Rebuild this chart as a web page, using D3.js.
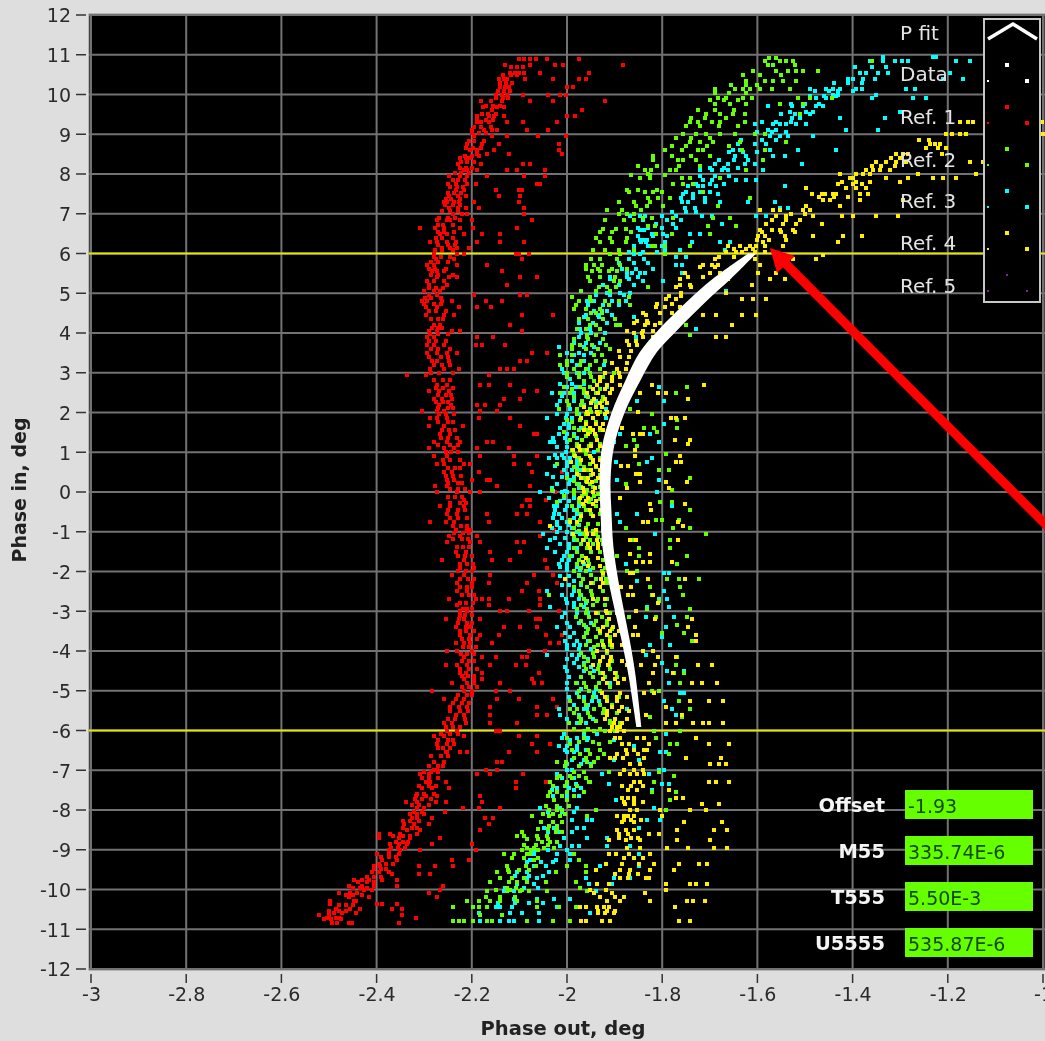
<!DOCTYPE html>
<html><head><meta charset="utf-8">
<script src="https://cdn.jsdelivr.net/npm/d3@7"></script>
<style>html,body{margin:0;padding:0;background:#dedede;overflow:hidden}svg{display:block}text{font-family:"DejaVu Sans",sans-serif;filter:blur(.35px)}</style>
</head><body><svg id="c" width="1045" height="1041"></svg>
<script>
// rows: [phase in, [phase out values...]]
const ref1Rows=[
[10.9,[-2.10,-2.09,-2.077,-2.066,-2.043,-1.975]],[10.75,[-2.13,-2.077,-2.026,-2.009,-1.883]],[10.55,[-2.12,-2.11,-2.10,-2.09,-2.056,-1.954]],
[10.38,[-2.143,-2.133,-2.126,-2.089,-2.03,-1.975,-1.96]],[10.2,[-2.14,-2.13,-2.122,-2.0,-1.988]],[10.0,[-2.15,-2.136,-2.126,-2.093,-2.04,-2.014,-2.003]],
[9.83,[-2.18,-2.16,-2.136,-2.077,-2.03,-1.92]],[9.68,[-2.177,-2.147,-2.133]],[9.6,[-2.157,-1.968]],[9.45,[-2.19,-2.164,-2.154,-2.133,-2.0,-1.984]],
[9.3,[-2.19,-2.18,-2.164,-2.126,-2.093,-2.02]],[9.1,[-2.2,-2.175,-2.157,-2.147,-2.084,-2.04]],[8.95,[-2.196,-2.157,-2.126,-2.06,-2.003]],
[8.75,[-2.21,-2.178,-2.143,-2.017]],[8.6,[-2.203,-2.19,-2.154,-2.017]],[8.5,[-2.19,-2.168,-2.122,-2.01]],[8.4,[-2.224,-2.213,-2.203]],
[8.25,[-2.23,-2.18,-2.093,-2.077]],[8.1,[-2.217,-2.21,-2.19,-2.126,-2.105,-2.047]],[7.95,[-2.248,-2.224,-2.21,-2.168,-2.09,-2.047]],
[7.75,[-2.25,-2.234,-2.21,-2.192,-2.063,-2.056]],[7.6,[-2.234,-2.217,-2.1,-2.094,-2.15]],[7.45,[-2.248,-2.23,-2.213,-2.098,-2.143]],
[7.3,[-2.259,-2.252,-2.238,-2.227,-2.196,-2.10]],[7.15,[-2.248,-2.23,-2.213,-2.185,-2.09]],[7.0,[-2.24,-2.22,-2.21,-2.09]],
[6.85,[-2.273,-2.252,-2.245,-2.224,-2.2,-2.073]],[6.65,[-2.308,-2.277,-2.259,-2.224,-2.197,-2.105]],[6.5,[-2.266,-2.252,-2.217,-2.178,-2.14]],
[6.3,[-2.287,-2.273,-2.252,-2.234,-2.189,-2.14,-2.09]],[6.15,[-2.262,-2.245,-2.231,-2.206]],[6.0,[-2.28,-2.231,-2.217,-2.101,-2.08,-2.108]],
[5.85,[-2.276,-2.238,-2.094]],[5.7,[-2.294,-2.28,-2.231,-2.168]],[5.55,[-2.283,-2.273,-2.259,-2.136]],[5.4,[-2.273,-2.248,-2.231,-2.098,-2.063]],
[5.2,[-2.29,-2.252,-2.126]],[5.05,[-2.3,-2.28,-2.266]],[4.95,[-2.29,-2.273,-2.196,-2.098,-2.084]],[4.8,[-2.304,-2.294,-2.262,-2.241,-2.17,-2.136]],
[4.65,[-2.297,-2.273,-2.227,-2.189,-2.16]],[4.45,[-2.297,-2.259,-2.238,-2.03,-2.094]],[4.2,[-2.28,-2.266,-2.119]],[4.05,[-2.29,-2.273,-2.241,-2.224,-2.094]],
[3.9,[-2.294,-2.28,-2.19,-2.155]],[3.7,[-2.294,-2.28,-2.259,-2.192,-2.178,-2.131]],[3.5,[-2.294,-2.273,-2.252,-2.231,-2.073,-2.043]],
[3.3,[-2.283,-2.273,-2.248,-2.098,-2.084]],[3.1,[-2.287,-2.259,-2.227,-2.126,-2.112,-2.14]],[2.95,[-2.337,-2.297,-2.164]],
[2.7,[-2.273,-2.252,-2.182,-2.164,-2.119]],[2.55,[-2.29,-2.269,-2.248,-2.09,-2.063]],[2.35,[-2.28,-2.263,-2.242,-2.133,-2.098]],
[2.2,[-2.269,-2.244,-2.19,-2.173,-2.14]],[2.05,[-2.304,-2.273,-2.259,-2.182,-2.147]],[1.85,[-2.287,-2.273,-2.252,-2.185,-2.119]],
[1.65,[-2.29,-2.259,-2.219,-2.098]],[1.45,[-2.266,-2.245,-2.07,-2.063]],[1.25,[-2.28,-2.252,-2.224,-2.168,-2.155]],[1.1,[-2.29,-2.259,-2.238,-2.189,-2.122]],
[0.9,[-2.28,-2.252,-2.182,-2.112,-2.063]],[0.7,[-2.273,-2.259,-2.217,-2.203,-2.112,-2.08]],[0.5,[-2.259,-2.241,-2.185,-2.073,-2.01]],
[0.3,[-2.252,-2.238,-2.2,-2.168,-2.161]],[0.15,[-2.278,-2.252,-2.147,-2.077]],[0.0,[-2.273,-2.231,-2.203,-2.182,-2.026]],[-0.2,[-2.217,-2.077,-2.084,-2.045]],
[-0.35,[-2.266,-2.245,-2.217,-2.094,-2.077]],[-0.55,[-2.252,-2.231,-2.105,-2.084,-2.168]],[-0.75,[-2.287,-2.255,-2.238,-2.164,-2.056]],
[-0.95,[-2.234,-2.21,-2.203,-2.028]],[-1.1,[-2.248,-2.224,-2.189,-2.056]],[-1.25,[-2.252,-2.203,-2.182,-2.105,-2.09]],[-1.5,[-2.234,-2.213,-2.161,-2.098]],
[-1.7,[-2.262,-2.217,-2.157,-2.119,-2.047]],[-1.9,[-2.224,-2.196,-2.042]],[-2.1,[-2.241,-2.217,-2.161,-2.07,-2.03]],[-2.3,[-2.231,-2.2,-2.164,-2.084,-2.021]],
[-2.5,[-2.231,-2.21,-2.094,-2.059]],[-2.7,[-2.248,-2.192,-2.178,-2.164,-2.122,-2.056]],[-2.85,[-2.231,-2.164,-2.056]],[-3,[-2.224,-2.21,-2.14,-2.126,-2.08,-2.017]],
[-3.2,[-2.255,-2.227,-2.217,-2.182,-2.066,-2.056]],[-3.4,[-2.234,-2.213,-2.203,-2.133,-2.098,-2.063]],[-3.6,[-2.224,-2.203,-2.182,-2.143,-2.045,-2.01]],
[-3.8,[-2.234,-2.217,-2.203,-2.157,-2.035,-2.017]],[-4,[-2.252,-2.231,-2.2,-2.08,-2.047]],[-4.15,[-2.217,-2.178,-2.15,-2.094,-2.084]],
[-4.35,[-2.255,-2.231,-2.21,-2.161,-2.108,-2.087]],[-4.55,[-2.224,-2.213,-2.178,-2.059]],[-4.7,[-2.217,-2.196,-2.178,-2.073]],
[-4.8,[-2.241,-2.21,-2.196,-2.14,-2.053,-2.07]],[-5,[-2.283,-2.217,-2.2,-2.15,-2.119]],[-5.2,[-2.259,-2.234,-2.217,-2.147,-2.101,-2.03]],
[-5.4,[-2.245,-2.227,-2.21,-2.161,-2.063,-2.021]],[-5.6,[-2.234,-2.217,-2.161,-2.063,-2.042]],[-5.8,[-2.259,-2.241,-2.213,-2.161,-2.105]],
[-6,[-2.252,-2.231,-2.15,-2.14]],[-6.15,[-2.28,-2.259,-2.217,-2.101,-2.063]],[-6.35,[-2.252,-2.238,-2.273,-2.073,-2.035]],[-6.55,[-2.255,-2.252,-2.224,-2.21,-2.122,-2.063]],
[-6.8,[-2.28,-2.259,-2.147,-2.136]],[-7,[-2.28,-2.273,-2.171,-2.147]],[-7.1,[-2.308,-2.29,-2.189,-2.161,-2.093]],[-7.3,[-2.297,-2.287,-2.255,-2.108,-2.045]],
[-7.45,[-2.304,-2.283,-2.248,-2.108]],[-7.65,[-2.318,-2.297,-2.273,-2.182]],[-7.8,[-2.315,-2.276,-2.255,-2.339,-2.178]],[-7.95,[-2.315,-2.301,-2.219,-2.185,-2.14]],
[-8.05,[-2.322,-2.304,-2.257]],[-8.2,[-2.325,-2.315,-2.283,-2.173,-2.155]],[-8.35,[-2.343,-2.322,-2.29,-2.164]],[-8.5,[-2.336,-2.308,-2.182]],
[-8.6,[-2.395,-2.371,-2.35,-2.315]],[-8.7,[-2.395,-2.353,-2.329,-2.266]],[-8.85,[-2.371,-2.353,-2.336,-2.283,-2.2]],[-9,[-2.374,-2.35,-2.308,-2.192]],
[-9.1,[-2.399,-2.374,-2.353]],[-9.25,[-2.388,-2.357,-2.241,-2.206]],[-9.4,[-2.406,-2.392,-2.311,-2.278,-2.24]],[-9.55,[-2.409,-2.395,-2.374]],
[-9.6,[-2.311,-2.287,-2.367]],[-9.75,[-2.43,-2.416,-2.388,-2.357,-2.448]],[-9.9,[-2.459,-2.43,-2.406,-2.357,-2.261]],[-10,[-2.427,-2.409,-2.266]],
[-10.1,[-2.479,-2.455,-2.441,-2.29]],[-10.2,[-2.459,-2.416,-2.273]],[-10.28,[-2.497,-2.448,-2.444]],[-10.37,[-2.497,-2.399,-2.388,-2.357]],
[-10.5,[-2.486,-2.455,-2.434,-2.367,-2.346]],[-10.6,[-2.489,-2.472,-2.444]],[-10.65,[-2.521,-2.5,-2.346]],[-10.72,[-2.504,-2.486,-2.479,-2.318]],
[-10.85,[-2.493,-2.483,-2.458,-2.451,-2.353]]];
const ref1Band=[
[10.7,[-2.118,-2.104,-2.092]],[10.48,[-2.135,-2.118,-2.106]],[10.28,[-2.14,-2.128,-2.115]],[10.08,[-2.145,-2.133,-2.12]],[9.9,[-2.15,-2.135,-2.125]],[9.72,[-2.17,-2.155,-2.14]],[9.52,[-2.178,-2.165,-2.15]],[9.35,[-2.19,-2.17,-2.155]],[9.18,[-2.195,-2.18,-2.16]],[9.02,[-2.2,-2.185,-2.17]],[8.82,[-2.205,-2.195,-2.175]],[8.66,[-2.212,-2.197,-2.18]],[8.45,[-2.215,-2.2,-2.185]],[8.3,[-2.222,-2.21,-2.195]],[8.15,[-2.225,-2.213,-2.2]],[8.02,[-2.235,-2.222,-2.205]],[7.85,[-2.24,-2.228,-2.215]],[7.68,[-2.245,-2.232,-2.218]],[7.52,[-2.25,-2.238,-2.222]],[7.38,[-2.255,-2.243,-2.225]],[7.22,[-2.257,-2.24,-2.225]],[7.06,[-2.262,-2.245,-2.228]],[6.9,[-2.268,-2.25,-2.235]],[6.72,[-2.27,-2.26,-2.24]],[6.55,[-2.272,-2.258,-2.238]],[6.38,[-2.275,-2.262,-2.24]],[6.22,[-2.27,-2.25,-2.235]],[6.08,[-2.278,-2.262,-2.24]],[5.92,[-2.28,-2.265,-2.245]],[5.78,[-2.285,-2.27,-2.25]],[5.62,[-2.29,-2.278,-2.255]],[5.47,[-2.285,-2.272,-2.24]],[5.3,[-2.295,-2.28,-2.258]],[5.12,[-2.29,-2.275,-2.26]],[4.88,[-2.298,-2.285,-2.265]],[4.72,[-2.3,-2.28,-2.265]],[4.55,[-2.29,-2.275,-2.255]],[4.35,[-2.285,-2.27,-2.26]],[4.12,[-2.283,-2.272,-2.262]],[3.98,[-2.288,-2.27,-2.25]],[3.8,[-2.29,-2.275,-2.255]],[3.6,[-2.285,-2.27,-2.245]],[3.4,[-2.29,-2.265,-2.25]],[3.2,[-2.28,-2.262,-2.245]],[3.0,[-2.285,-2.268,-2.24]],[2.82,[-2.28,-2.26,-2.245]],[2.62,[-2.275,-2.26,-2.24]],[2.45,[-2.272,-2.255,-2.243]],[2.27,[-2.275,-2.26,-2.25]],[2.12,[-2.27,-2.25,-2.24]],[1.95,[-2.268,-2.255,-2.238]],[1.75,[-2.27,-2.25,-2.24]],[1.55,[-2.262,-2.248,-2.235]],[1.35,[-2.265,-2.25,-2.232]],[1.18,[-2.27,-2.245,-2.23]],[1.0,[-2.255,-2.243,-2.23]],[0.8,[-2.26,-2.245,-2.225]],[0.6,[-2.25,-2.235,-2.225]],[0.4,[-2.255,-2.24,-2.222]],[0.22,[-2.25,-2.23,-2.22]],[0.07,[-2.245,-2.228,-2.215]],[-0.12,[-2.25,-2.235,-2.22]],[-0.28,[-2.245,-2.225,-2.212]],[-0.45,[-2.25,-2.23,-2.215]],[-0.65,[-2.245,-2.228,-2.21]],[-0.85,[-2.24,-2.222,-2.21]],[-1.02,[-2.238,-2.218,-2.205]],[-1.18,[-2.24,-2.22,-2.208]],[-1.38,[-2.232,-2.218,-2.205]],[-1.6,[-2.23,-2.215,-2.2]],[-1.8,[-2.225,-2.21,-2.198]],[-2.0,[-2.228,-2.212,-2.2]],[-2.2,[-2.225,-2.208,-2.195]],[-2.4,[-2.225,-2.21,-2.2]],[-2.6,[-2.22,-2.205,-2.195]],[-2.78,[-2.225,-2.212,-2.198]],[-2.95,[-2.218,-2.21,-2.2]],[-3.1,[-2.225,-2.215,-2.2]],[-3.3,[-2.228,-2.21,-2.2]],[-3.5,[-2.225,-2.212,-2.195]],[-3.7,[-2.22,-2.205,-2.19]],[-3.9,[-2.218,-2.205,-2.192]],[-4.08,[-2.222,-2.21,-2.195]],[-4.25,[-2.22,-2.205,-2.195]],[-4.45,[-2.225,-2.205,-2.19]],[-4.62,[-2.22,-2.208,-2.195]],[-4.9,[-2.22,-2.205,-2.19]],[-5.1,[-2.23,-2.21,-2.2]],[-5.3,[-2.24,-2.22,-2.205]],[-5.5,[-2.245,-2.225,-2.208]],[-5.7,[-2.25,-2.235,-2.215]],[-5.9,[-2.255,-2.24,-2.225]],[-6.08,[-2.265,-2.245,-2.23]],[-6.25,[-2.27,-2.25,-2.24]],[-6.45,[-2.27,-2.26,-2.245]],[-6.65,[-2.285,-2.265,-2.25]],[-6.9,[-2.29,-2.27,-2.26]],[-7.05,[-2.3,-2.285,-2.27]],[-7.2,[-2.305,-2.29,-2.27]],[-7.4,[-2.31,-2.29,-2.275]],[-7.6,[-2.315,-2.3,-2.28]],[-7.72,[-2.32,-2.305,-2.285]],[-7.88,[-2.325,-2.31,-2.29]],[-8.1,[-2.33,-2.315,-2.3]],[-8.28,[-2.345,-2.33,-2.31]],[-8.45,[-2.345,-2.325,-2.315]],[-8.65,[-2.365,-2.345,-2.33]],[-8.8,[-2.36,-2.345,-2.335]],[-8.95,[-2.37,-2.355,-2.34]],[-9.18,[-2.39,-2.375,-2.36]],[-9.35,[-2.395,-2.38,-2.365]],[-9.48,[-2.405,-2.39,-2.38]],[-9.68,[-2.42,-2.405,-2.39]],[-9.82,[-2.44,-2.42,-2.405]],[-9.95,[-2.45,-2.435,-2.42]],[-10.15,[-2.465,-2.45,-2.43]],[-10.4,[-2.48,-2.465,-2.45]],[-10.55,[-2.5,-2.48,-2.465]],[-10.75,[-2.51,-2.495,-2.475]]];
const ref2Rows=[
[10.85,[-1.584,-1.553,-1.539,-1.525,-1.36]],[10.75,[-1.577,-1.567,-1.521]],[10.6,[-1.609,-1.56,-1.535,-1.518,-1.504,-1.472]],[10.35,[-1.623,-1.584,-1.567,-1.546,-1.518]],
[10.15,[-1.689,-1.647,-1.63,-1.616,-1.595,-1.57,-1.532]],[9.9,[-1.682,-1.665,-1.63,-1.612,-1.514,-1.49,-1.444]],[9.75,[-1.689,-1.658,-1.623,-1.553,-1.504]],
[9.5,[-1.707,-1.679,-1.651,-1.626,-1.511]],[9.3,[-1.742,-1.724,-1.696,-1.679,-1.626]],[9.0,[-1.756,-1.728,-1.707,-1.679,-1.647,-1.605,-1.584]],
[8.8,[-1.742,-1.721,-1.693,-1.637,-1.539]],[8.6,[-1.794,-1.759,-1.724,-1.714,-1.633,-1.584]],[8.35,[-1.819,-1.766,-1.756,-1.728,-1.588]],
[8.1,[-1.836,-1.784,-1.77,-1.823,-1.623]],[8.0,[-1.83]],[7.9,[-1.846,-1.826,-1.759,-1.742,-1.679]],[7.75,[-1.777,-1.756,-1.735]],[7.55,[-1.87,-1.836,-1.819,-1.801,-1.714]],
[7.4,[-1.83,-1.808,-1.784,-1.616]],[7.2,[-1.856,-1.832,-1.798,-1.682]],[7.0,[-1.891,-1.874,-1.86]],[6.9,[-1.84,-1.822,-1.777,-1.693,-1.658]],
[6.7,[-1.83,-1.815,-1.703,-1.644]],[6.62,[-1.925,-1.898,-1.877]],[6.5,[-1.812,-1.78,-1.7]],[6.3,[-1.93,-1.905,-1.877]],[6.2,[-1.822,-1.794,-1.815,-1.742]],
[6.0,[-1.909,-1.888,-1.794]],[5.7,[-1.961,-1.944,-1.926,-1.888]],[5.55,[-1.947,-1.93,-1.912,-1.895]],[5.3,[-1.951,-1.902,-1.888]],[5.15,[-1.933,-1.916,-1.898,-1.83]],
[4.9,[-1.989,-1.951,-1.87]],[4.7,[-1.982,-1.912,-1.867]],[4.5,[-1.95,-1.94,-1.926]],[4.2,[-1.951,-1.94,-1.898,-1.888,-1.749]],[3.95,[-1.958,-1.94,-1.742]],
[3.7,[-1.989,-1.972,-1.947,-1.919]],[3.45,[-2.014,-1.989,-1.944,-1.926]],[3.2,[-2.0,-1.972,-1.951,-2.014]],[3.0,[-2.0,-1.975,-1.951,-1.902]],[2.8,[-1.965,-1.944,-1.86]],
[2.65,[-2.007,-1.972,-1.951,-1.748]],[2.5,[-2.014,-1.993,-1.965,-1.94,-1.772]],[2.3,[-2.0,-1.968,-1.947,-1.926]],[2.1,[-2.017,-1.979,-1.951,-1.867]],
[1.95,[-1.979,-1.961,-1.821]],[1.8,[-2.0,-1.972,-1.769]],[1.6,[-1.986,-1.965,-1.839,-1.818,-1.769]],[1.5,[-2.007,-1.951,-1.81]],[1.3,[-1.993,-1.968,-1.86]],
[1.15,[-1.979,-1.954,-1.877,-1.853]],[0.95,[-1.986,-1.961,-1.793]],[0.7,[-2.021,-1.972,-1.951,-1.849]],[0.55,[-1.979,-1.958,-1.807,-1.786]],[0.35,[-2.0,-1.965,-1.741]],
[0.2,[-1.979,-1.951,-1.877]],[0.05,[-2.031,-1.986,-1.958,-1.779]],[-0.1,[-2.007,-1.968,-1.944]],[-0.25,[-2.021,-1.975,-1.954,-1.804,-1.779]],[-0.45,[-1.979,-1.961,-1.741]],
[-0.7,[-1.993,-1.972,-1.814,-1.8,-1.765]],[-0.9,[-1.986,-1.961,-1.877,-1.777,-1.741]],[-1.05,[-1.965,-1.94,-1.709]],[-1.2,[-1.979,-1.951,-1.926,-1.86,-1.783]],
[-1.4,[-1.986,-1.958,-1.849,-1.783]],[-1.6,[-1.993,-1.968,-1.895,-1.849,-1.748]],[-1.8,[-1.979,-1.954,-1.769]],[-2.0,[-1.986,-1.961,-1.926,-1.874,-1.853]],
[-2.2,[-1.966,-1.94,-1.919,-1.79,-1.765,-1.723]],[-2.4,[-1.986,-1.958,-1.93,-1.825,-1.763]],[-2.6,[-1.972,-1.947,-2.038,-1.821,-1.756]],[-2.75,[-1.958,-1.937,-1.807]],
[-2.95,[-1.979,-1.958,-1.741,-1.832]],[-3.15,[-1.982,-1.954,-1.926,-1.87,-1.814,-1.748]],[-3.35,[-1.965,-1.944,-1.916,-1.769]],[-3.55,[-1.958,-1.93,-1.8,-1.755]],
[-3.75,[-1.951,-1.926,-1.737]],[-3.9,[-1.944,-1.923,-1.905]],[-4.15,[-1.965,-1.944,-1.769]],[-4.35,[-1.965,-1.933,-1.912,-1.772]],[-4.55,[-1.951,-1.93,-1.898,-1.776,-1.755]],
[-4.8,[-1.982,-1.965,-1.933,-1.762]],[-5,[-1.975,-1.954,-1.93,-1.821,-1.807]],[-5.25,[-1.993,-1.965,-1.765,-1.741]],[-5.45,[-1.993,-1.979,-1.944,-1.923,-1.741]],
[-5.65,[-1.975,-1.951,-1.825,-1.758]],[-5.8,[-1.996,-1.972,-1.909,-1.888]],[-6,[-1.965,-1.944,-1.92,-1.899,-1.762,-1.818]],[-6.2,[-2.0,-1.965,-1.814]],
[-6.35,[-1.993,-1.933,-1.783,-1.769]],[-6.6,[-1.972,-1.951,-1.923,-1.786]],[-6.8,[-2.021,-2.003,-1.958,-1.944]],[-7.05,[-1.986,-1.965,-1.912,-1.807]],
[-7.15,[-2.014,-1.993,-1.975,-1.776]],[-7.3,[-2.035,-2.0,-1.954,-1.951,-1.818]],[-7.55,[-2.035,-2.021,-2.0,-1.965,-1.772,-1.821]],[-7.75,[-2.028,-2.0,-1.783]],
[-8,[-2.038,-2.021,-2.01,-1.94,-1.793]],[-8.15,[-2.073,-2.038,-2.014,-1.958]],[-8.4,[-2.038,-2.021]],[-8.55,[-2.024,-2.01,-2.094]],[-8.65,[-2.105,-2.091,-2.063,-2.042]],
[-8.8,[-2.052,-2.035,-2.021]],[-8.95,[-2.084,-2.07,-2.049,-2.028]],[-9.1,[-2.133,-2.112,-2.084,-2.077,-1.986]],[-9.25,[-2.07,-1.975]],[-9.4,[-2.126,-2.087,-2.066,-2.0,-1.961]],
[-9.55,[-2.147,-2.122,-2.024,-1.961]],[-9.8,[-2.161,-2.122,-2.105,-2.084,-2.045,-1.982]],[-9.95,[-2.126,-2.108,-1.972]],[-10.05,[-2.168,-2.126,-2.098,-2.08,-2.042,-1.958]],
[-10.3,[-2.21,-2.185,-2.161,-2.14,-2.105,-2.063]],[-10.45,[-2.239,-2.197,-2.185,-2.168,-2.063,-2.017,-1.982]],[-10.65,[-2.182,-2.136]],
[-10.8,[-2.239,-2.227,-2.217,-2.197,-2.168,-2.157,-2.084,-2.03,-1.993]]];
const ref2Band=[
[10.92,[-1.575,-1.56]],[10.5,[-1.63,-1.595,-1.55]],[10.25,[-1.655,-1.625,-1.6]],[10.05,[-1.69,-1.66,-1.625]],[9.85,[-1.7,-1.67,-1.64]],[9.62,[-1.725,-1.69,-1.65]],[9.42,[-1.74,-1.71,-1.665]],[9.2,[-1.75,-1.72,-1.68,-1.64]],[8.9,[-1.77,-1.74,-1.7]],[8.7,[-1.78,-1.75,-1.705,-1.66]],[8.45,[-1.82,-1.78,-1.74,-1.7]],[8.2,[-1.85,-1.81,-1.765,-1.72]],[7.98,[-1.865,-1.825,-1.795]],[7.6,[-1.875,-1.85,-1.81]],[7.3,[-1.89,-1.86,-1.825]],[7.1,[-1.915,-1.885,-1.845]],[6.85,[-1.92,-1.88,-1.86]],[6.55,[-1.93,-1.905,-1.865]],[6.4,[-1.94,-1.91,-1.875]],[6.1,[-1.945,-1.92,-1.89,-1.86]],[5.85,[-1.95,-1.93,-1.895]],[5.6,[-1.96,-1.935,-1.905,-1.875]],[5.4,[-1.955,-1.93,-1.9]],[5.05,[-1.97,-1.94,-1.91]],[4.8,[-1.975,-1.95,-1.92,-1.89]],[4.6,[-1.985,-1.96,-1.93]],[4.35,[-1.975,-1.955,-1.925,-1.9]],[4.1,[-1.98,-1.96,-1.93]],[3.85,[-1.985,-1.955,-1.925]],[3.6,[-1.99,-1.96,-1.935,-1.91]],[3.3,[-2.0,-1.97,-1.94,-1.92]],[3.1,[-1.985,-1.96,-1.93]],[2.9,[-2.0,-1.975,-1.95,-1.925]],
[2.6,[-1.99,-1.965,-1.93]],[2.4,[-1.985,-1.955,-1.925]],[2.2,[-1.995,-1.97,-1.94]],[2.0,[-1.98,-1.95,-1.93]],[1.75,[-1.99,-1.96,-1.94]],[1.55,[-1.975,-1.955,-1.93]],[1.4,[-1.985,-1.96,-1.94]],[1.22,[-1.98,-1.95,-1.93]],[1.05,[-1.99,-1.965,-1.935]],[0.85,[-1.975,-1.95,-1.93]],[0.62,[-1.985,-1.965,-1.94]],[0.42,[-1.975,-1.95,-1.93]],[0.28,[-1.985,-1.96,-1.94]],[0.12,[-1.97,-1.945,-1.93]],[-0.05,[-1.985,-1.96,-1.935]],[-0.18,[-1.975,-1.95,-1.93]],[-0.35,[-1.99,-1.965,-1.94]],[-0.55,[-1.97,-1.95,-1.93]],[-0.8,[-1.98,-1.955,-1.935]],[-0.98,[-1.975,-1.945,-1.925]],[-1.12,[-1.985,-1.96,-1.935]],[-1.3,[-1.97,-1.945,-1.925]],[-1.5,[-1.98,-1.95,-1.93]],[-1.7,[-1.975,-1.955,-1.925]],[-1.9,[-1.97,-1.945,-1.92]],[-2.1,[-1.975,-1.95,-1.925]],[-2.3,[-1.97,-1.945,-1.915]],[-2.5,[-1.975,-1.95,-1.925]],[-2.7,[-1.965,-1.935,-1.915]],[-2.85,[-1.97,-1.945,-1.92]],[-3.05,[-1.96,-1.935,-1.91]],[-3.25,[-1.97,-1.94,-1.915]],[-3.45,[-1.955,-1.935,-1.905]],[-3.65,[-1.965,-1.94,-1.91]],[-3.85,[-1.96,-1.935,-1.91]],[-4.05,[-1.97,-1.945,-1.915]],[-4.25,[-1.955,-1.93,-1.905]],[-4.45,[-1.96,-1.935,-1.91]],[-4.65,[-1.97,-1.945,-1.92,-1.895]],[-4.9,[-1.96,-1.94,-1.91]],[-5.15,[-1.975,-1.945,-1.915,-1.89]],[-5.35,[-1.96,-1.93,-1.905]],[-5.55,[-1.985,-1.955,-1.925,-1.895]],[-5.75,[-1.97,-1.94,-1.91]],[-5.95,[-1.985,-1.955,-1.93,-1.905]],[-6.3,[-1.975,-1.945,-1.91]],[-6.5,[-1.99,-1.955,-1.93]],[-6.7,[-1.985,-1.96,-1.935]],[-6.9,[-2.005,-1.975,-1.95]],[-7.2,[-2.02,-1.99,-1.96]],[-7.4,[-2.03,-2.005,-1.98]],[-7.65,[-2.04,-2.01,-1.985]],[-7.9,[-2.045,-2.02,-1.995]],[-8.1,[-2.05,-2.03,-2.005]],[-8.3,[-2.055,-2.03,-2.01]],[-8.48,[-2.06,-2.04,-2.02]],[-8.72,[-2.085,-2.06,-2.04]],[-8.88,[-2.09,-2.065,-2.04]],[-9.0,[-2.095,-2.075,-2.06]],[-9.2,[-2.115,-2.09,-2.06]],[-9.5,[-2.125,-2.1,-2.08]],[-9.7,[-2.14,-2.115,-2.09]],[-10.0,[-2.15,-2.12,-2.095]],[-10.2,[-2.17,-2.14,-2.11]]];
const ref3Rows=[
[10.95,[-1.336,-1.231,-1.224]],[10.85,[-1.364,-1.336,-1.311,-1.297,-1.283,-1.182,-1.154]],[10.55,[-1.385,-1.371,-1.346,-1.325,-1.196]],[10.4,[-1.409,-1.399,-1.378,-1.353,-1.21,-1.168]],
[10.15,[-1.49,-1.455,-1.441,-1.427,-1.392,-1.381,-1.287,-1.269]],[10.0,[-1.441,-1.43,-1.35]],[9.9,[-1.476,-1.455,-1.444,-1.36,-1.273,-1.245]],[9.7,[-1.577,-1.528,-1.504,-1.476,-1.462]],
[9.55,[-1.532,-1.497,-1.483,-1.301]],[9.4,[-1.528,-1.511,-1.427,-1.332]],[9.25,[-1.605,-1.567,-1.553,-1.539,-1.518,-1.497]],[9.1,[-1.577,-1.56,-1.413,-1.346]],
[8.95,[-1.574,-1.553,-1.535,-1.483]],[8.75,[-1.605,-1.581,-1.64]],[8.6,[-1.651,-1.637,-1.574,-1.514,-1.434]],[8.45,[-1.647,-1.623,-1.567,-1.542]],
[8.25,[-1.689,-1.661,-1.626,-1.605,-1.507]],[8.1,[-1.721,-1.696,-1.675,-1.661,-1.588]],[7.85,[-1.714,-1.696,-1.644,-1.623,-1.602]],[7.7,[-1.745,-1.724,-1.714,-1.686,-1.542]],
[7.5,[-1.756,-1.735,-1.682]],[7.3,[-1.759,-1.745,-1.71,-1.679,-1.619,-1.563]],[7.15,[-1.752,-1.731,-1.535,-1.553]],[6.95,[-1.867,-1.846,-1.836,-1.801,-1.77,-1.717,-1.696,-1.602,-1.581]],
[6.75,[-1.812,-1.777,-1.675]],[6.6,[-1.846,-1.839]],[6.5,[-1.822,-1.798,-1.742,-1.721]],[6.35,[-1.846,-1.839,-1.832]],[6.3,[-1.844,-1.833,-1.794,-1.738,-1.679,-1.658]],
[6.1,[-1.794,-1.763,-1.668]],[6.0,[-1.86,-1.846]],[5.9,[-1.77,-1.749]],[5.85,[-1.87,-1.839]],[5.7,[-1.77,-1.759]],[5.5,[-1.874,-1.863,-1.846,-1.836,-1.759]],
[5.35,[-1.909,-1.87]],[5.3,[-1.84,-1.798]],[5.05,[-1.665]],[5.0,[-1.916,-1.888,-1.867]],[4.8,[-1.958,-1.944,-1.905,-1.877]],[4.55,[-1.944,-1.926,-1.916]],
[4.4,[-1.965,-1.933,-1.86]],[4.1,[-1.972,-1.951,-1.728]],[3.9,[-1.975,-1.958,-1.856]],[3.65,[-2.017,-1.989,-1.965,-1.944]],[3.45,[-1.986,-1.965,-1.926]],
[3.2,[-2.0,-1.979,-1.923]],[3.0,[-2.007,-1.979,-1.965]],[2.85,[-1.993,-1.93]],[2.65,[-2.0,-1.982,-1.951,-1.916,-1.807]],[2.5,[-2.031,-2.007,-1.986]],
[2.3,[-2.014,-2.0,-1.986,-1.94,-1.853,-1.797]],[2.1,[-2.017,-1.993,-1.919]],[1.85,[-2.042,-2.003,-1.989,-1.919]],[1.7,[-2.007,-1.996,-1.797]],
[1.45,[-2.017,-2.0,-1.986,-1.888,-1.825]],[1.25,[-2.035,-2.028,-2.0,-1.902,-1.807]],[1.0,[-2.003,-1.944]],[0.85,[-2.021,-2.007,-1.993,-1.979,-2.038,-1.821]],
[0.75,[-2.0,-1.979,-1.898,-1.832]],[0.55,[-2.007,-1.99,-1.972]],[0.45,[-2.042,-2.0,-1.979]],[0.3,[-1.993,-1.895,-1.807]],[0.1,[-2.031,-1.975]],
[0,[-2.056,-2.011,-2.0,-1.811]],[-0.15,[-2.007,-1.986,-2.038]],[-0.35,[-2.028,-2.021,-2.0,-1.975,-1.779]],[-0.55,[-2.028,-2.017,-1.979,-1.895,-1.853]],
[-0.75,[-2.021,-2.0,-1.888]],[-0.9,[-2.031,-2.014,-1.989]],[-1.05,[-2.05,-1.989,-1.972,-1.815]],[-1.2,[-2.035,-1.986,-1.965]],[-1.4,[-2.042,-1.996,-1.979]],
[-1.6,[-2.007,-1.989]],[-1.8,[-2.017,-2.0,-1.965,-1.877]],[-1.95,[-2.0,-1.972,-1.951]],[-2.05,[-1.797,-1.786]],[-2.25,[-1.986,-1.853]],[-2.5,[-2.042,-1.986,-1.797]],
[-2.7,[-2.003,-1.975,-1.807,-1.79]],[-2.9,[-2.035,-1.986,-1.965,-1.832,-1.786]],[-3.15,[-2.01,-1.835,-1.776]],[-3.4,[-2.021,-1.993,-1.961,-1.793]],[-3.65,[-1.993,-1.8]],
[-3.85,[-2.0,-1.986,-1.972,-1.825,-1.783]],[-4.1,[-2.042,-1.989,-1.975,-1.835]],[-4.3,[-1.986,-1.965,-1.8]],[-4.5,[-2.0,-1.965,-1.944,-1.79,-1.755]],
[-4.8,[-2.0,-1.979,-1.909,-1.786]],[-5.05,[-1.979,-1.944,-1.762,-1.755]],[-5.25,[-1.947,-1.933,-1.797]],[-5.45,[-2.017,-1.965,-1.958,-1.874,-1.779]],[-5.6,[-2.014,-1.975,-1.772]],
[-5.8,[-1.979,-1.961]],[-6.1,[-2.007,-1.965,-1.937,-1.793]],[-6.25,[-1.993,-1.958,-1.902]],[-6.4,[-2.017,-2.0,-1.979,-1.86]],[-6.55,[-2.0,-1.986,-1.804,-1.793]],
[-6.75,[-1.989,-1.965,-1.902,-1.849]],[-7,[-2.0,-1.989,-1.797,-1.807]],[-7.1,[-2.021,-1.926,-1.828]],[-7.35,[-2.0,-1.982,-1.912,-1.8,-1.786]],[-7.5,[-2.031,-1.986,-1.821,-1.786]],
[-7.75,[-2.028,-2.0,-1.898]],[-7.95,[-2.056,-2.014,-1.979,-1.818]],[-8.25,[-1.989,-1.958,-1.947,-1.832,-1.804]],[-8.45,[-2.049,-2.028,-1.979,-1.965,-1.849]],
[-8.7,[-2.007,-1.958,-1.916]],[-8.9,[-2.014,-1.989,-1.975,-1.916,-1.867]],[-9.1,[-2.07,-2.021,-1.993,-1.849]],[-9.25,[-2.077,-2.024,-1.993]],[-9.4,[-2.07,-2.045,-1.93,-1.849]],
[-9.55,[-2.105,-2.084,-2.038]],[-9.7,[-2.084,-2.063,-1.961,-1.902,-1.867]],[-9.85,[-2.105,-2.07,-1.954,-1.905]],[-10.05,[-2.133,-2.112,-1.94]],
[-10.25,[-2.112,-2.063,-2.028,-1.993]],[-10.45,[-2.15,-2.14,-2.115,-2.021]],[-10.6,[-2.185,-2.119,-2.094,-2.059,-1.951]],[-10.8,[-2.182,-2.14,-2.122,-2.112,-2.059]]];
const ref3Band=[
[10.7,[-1.395,-1.36,-1.33]],[10.3,[-1.44,-1.41,-1.38]],[10.1,[-1.48,-1.45,-1.43,-1.4]],[9.95,[-1.49,-1.46,-1.435]],[9.75,[-1.53,-1.5,-1.47]],[9.5,[-1.55,-1.52,-1.49]],[9.3,[-1.59,-1.56,-1.53]],[9.05,[-1.6,-1.57,-1.54]],[8.85,[-1.635,-1.59,-1.56]],[8.55,[-1.66,-1.63,-1.6]],[8.35,[-1.68,-1.65,-1.62]],[8.15,[-1.7,-1.67,-1.64]],[7.95,[-1.72,-1.69,-1.66]],[7.75,[-1.73,-1.7,-1.67]],[7.55,[-1.75,-1.72,-1.7]],[7.4,[-1.76,-1.735,-1.71]],[7.05,[-1.78,-1.75,-1.73]],[6.85,[-1.84,-1.79,-1.76]],[6.65,[-1.85,-1.83,-1.8,-1.77]],[6.45,[-1.85,-1.82,-1.79]],[6.2,[-1.86,-1.83,-1.8]],[6.05,[-1.87,-1.84,-1.81]],[5.75,[-1.89,-1.86,-1.83]],[5.6,[-1.885,-1.855,-1.82]],[5.42,[-1.91,-1.875,-1.85]],[5.2,[-1.925,-1.89,-1.86]],[4.95,[-1.94,-1.91,-1.88]],[4.7,[-1.955,-1.925,-1.89]],[4.45,[-1.96,-1.935,-1.905]],[4.25,[-1.975,-1.945,-1.915]],[4.0,[-1.97,-1.95,-1.92]],[3.75,[-1.985,-1.96,-1.93]],[3.5,[-2.0,-1.975,-1.95]],[3.3,[-1.99,-1.965,-1.94]],[3.1,[-2.01,-1.985,-1.955]],[2.9,[-2.0,-1.975,-1.95]],[2.72,[-2.015,-1.99,-1.965]],[2.42,[-2.01,-1.985,-1.96]],[2.2,[-2.02,-1.995,-1.965]],[1.95,[-2.02,-2.0,-1.975]],[1.6,[-2.015,-1.995,-1.97]],[1.35,[-2.03,-2.005,-1.98]],[1.12,[-2.02,-2.0,-1.975]],[0.92,[-2.025,-2.01,-1.985]],[0.65,[-2.025,-2.0,-1.98]],[0.38,[-2.03,-2.01,-1.985]],[0.2,[-2.02,-1.995,-1.975]],[0.02,[-2.03,-2.005,-1.985]],[-0.22,[-2.015,-1.995,-1.975]],[-0.45,[-2.025,-2.005,-1.985]],[-0.65,[-2.03,-2.01,-1.985]],[-0.82,[-2.02,-1.995,-1.975]],[-1.0,[-2.02,-2.0,-1.98]],[-1.15,[-2.025,-2.005,-1.985]],[-1.3,[-2.015,-1.995,-1.97]],[-1.5,[-2.025,-2.0,-1.98]],[-1.7,[-2.01,-1.995,-1.975]],[-1.88,[-2.015,-2.0,-1.98]],[-2.12,[-2.015,-1.995,-1.975]],[-2.35,[-2.01,-1.995,-1.97]],[-2.6,[-2.01,-1.99,-1.97]],[-2.8,[-2.0,-1.985,-1.96]],[-3.05,[-2.005,-1.98,-1.955]],[-3.3,[-2.0,-1.975,-1.95]],[-3.55,[-2.005,-1.985,-1.96]],[-3.75,[-2.005,-1.98,-1.955]],[-3.95,[-2.0,-1.975,-1.95]],[-4.2,[-2.0,-1.98,-1.955]],[-4.4,[-2.005,-1.975,-1.95]],[-4.65,[-1.995,-1.97,-1.945]],[-4.95,[-2.0,-1.97,-1.94]],[-5.15,[-1.995,-1.965,-1.94]],[-5.35,[-1.985,-1.955,-1.93]],[-5.7,[-2.0,-1.97,-1.945]],[-5.95,[-1.985,-1.955,-1.93]],[-6.2,[-2.01,-1.98,-1.955]],[-6.5,[-2.005,-1.98,-1.96]],[-6.85,[-2.0,-1.97,-1.95]],[-7.2,[-2.01,-1.985,-1.96]],[-7.45,[-2.02,-1.995,-1.97]],[-7.65,[-2.03,-2.0,-1.975]],[-8.05,[-2.04,-2.01,-1.985]],[-8.55,[-2.04,-2.015,-1.99]],[-9.0,[-2.07,-2.04,-2.0]],[-9.3,[-2.085,-2.055,-2.03]],[-9.65,[-2.11,-2.08,-2.05]],[-9.95,[-2.13,-2.09,-2.06]],[-10.35,[-2.145,-2.11,-2.08,-2.05]]];
const ref4Rows=[
[9.3,[-1.175,-1.157,-1.147,-1.003]],[9.0,[-1.203,-1.192,-1.175,-1.161,-1.0]],[8.75,[-1.238,-1.227,-1.217]],[8.65,[-1.245,-1.22,-1.203]],[8.5,[-1.308,-1.294,-1.283,-1.213]],
[8.3,[-1.35,-1.329,-1.308,-1.287,-1.154,-1.126]],[8.1,[-1.371,-1.357,-1.343,-1.322]],[8.0,[-1.427,-1.392,-1.378,-1.364,-1.262,-1.14]],[7.9,[-1.406,-1.399,-1.329,-1.231,-1.21,-1.182,-1.283]],
[7.8,[-1.423,-1.392,-1.364,-1.301]],[7.65,[-1.413,-1.392,-1.371,-1.497]],[7.5,[-1.486,-1.465,-1.458,-1.441,-1.434,-1.385,-1.367]],[7.35,[-1.462,-1.448,-1.385,-1.294]],
[7.2,[-1.497,-1.427]],[7.1,[-1.595,-1.567,-1.553,-1.504,-1.49]],[6.95,[-1.56,-1.539,-1.483,-1.423,-1.399,-1.35,-1.304]],[6.75,[-1.581,-1.546,-1.518,-1.465]],
[6.6,[-1.595,-1.57,-1.553,-1.525]],[6.45,[-1.598,-1.584,-1.542,-1.483,-1.42,-1.381]],[6.3,[-1.588,-1.43]],[6.2,[-1.661,-1.637,-1.616,-1.602,-1.584,-1.547]],
[6.05,[-1.665,-1.644,-1.633,-1.605,-1.584]],[5.95,[-1.462]],[5.85,[-1.689,-1.605,-1.525,-1.476]],[5.7,[-1.714,-1.696,-1.682,-1.595]],[5.5,[-1.752,-1.7,-1.679,-1.56,-1.598]],
[5.35,[-1.763,-1.679,-1.661,-1.574,-1.542]],[5.2,[-1.763,-1.742,-1.612]],[5.0,[-1.76,-1.665]],[4.85,[-1.791,-1.77,-1.633,-1.609,-1.581]],[4.65,[-1.812,-1.794,-1.763]],
[4.45,[-1.833,-1.714,-1.686,-1.633,-1.602]],[4.3,[-1.853,-1.832]],[4.2,[-1.836,-1.815,-1.654]],[4.0,[-1.86,-1.842]],[3.9,[-1.84,-1.819,-1.686,-1.665]],
[3.7,[-1.87,-1.853]],[3.4,[-1.888,-1.87]],[3.1,[-1.895,-1.877]],[2.9,[-1.93,-1.905,-1.888]],
[2.7,[-1.937,-1.916,-1.888,-1.821,-1.713]],[2.5,[-1.958,-1.934,-1.91,-1.847,-1.809,-1.791]],[2.35,[-1.944,-1.921,-1.746]],[2.15,[-1.965,-1.94,-1.926]],[2.0,[-1.958,-1.937,-1.916,-1.85]],
[1.85,[-1.97,-1.945,-1.781,-1.77,-1.753]],[1.6,[-1.952,-1.931,-1.885]],[1.45,[-1.956,-1.942,-1.861,-1.847,-1.84]],[1.3,[-1.937,-1.774,-1.742]],[1.2,[-1.746]],
[1.05,[-1.987,-1.973,-1.959,-1.858]],[0.9,[-1.983,-1.951,-1.858,-1.763]],[0.75,[-1.991,-1.945,-1.77,-1.76]],[0.65,[-1.94,-1.886,-1.872]],[0.45,[-1.98,-1.945,-1.854,-1.847]],
[0.25,[-1.959,-1.948,-1.846,-1.793,-1.747]],[0.1,[-1.966,-1.941,-1.875,-1.786]],[-0.15,[-1.973,-1.956,-1.889]],[-0.3,[-1.966,-1.945,-1.826,-1.753]],[-0.45,[-1.952,-1.928,-1.823]],
[-0.75,[-1.994,-1.98,-1.84,-1.83,-1.767]],[-0.85,[-2.035,-1.757]],[-1.05,[-1.987,-1.959,-1.945]],[-1.2,[-1.966,-1.937,-1.868,-1.854,-1.767]],[-1.4,[-1.952,-1.934]],
[-1.55,[-1.868,-1.826]],[-1.75,[-1.966,-1.854,-1.84,-1.826,-1.78]],[-2.05,[-1.924,-1.868,-1.861]],[-2.2,[-2.005,-1.928,-1.83,-1.753]],[-2.4,[-1.931,-1.886,-1.865]],
[-2.6,[-1.871,-1.861,-1.82]],[-2.8,[-1.889,-1.809]],[-3.0,[-1.854,-1.919]],[-3.2,[-1.912,-1.816,-1.737]],[-3.4,[-1.924,-1.903,-1.858,-1.746]],[-3.6,[-1.917,-1.9,-1.861,-1.851,-1.728]],
[-3.75,[-1.728,-1.91]],[-4,[-1.938,-1.917,-1.84,-1.819]],[-4.15,[-1.924,-1.907,-1.809,-1.77]],[-4.35,[-1.945,-1.914,-1.875,-1.844,-1.816,-1.725,-1.695]],[-4.55,[-1.924,-1.9,-1.819,-1.777]],
[-4.8,[-1.916,-1.892,-1.828,-1.737,-1.716,-1.685]],[-5.05,[-1.927,-1.889,-1.839,-1.818]],[-5.25,[-1.916,-1.895,-1.741,-1.702,-1.672]],[-5.4,[-1.905,-1.884,-1.793]],[-5.6,[-1.916,-1.835,-1.758]],
[-5.8,[-1.902,-1.884,-1.793,-1.772,-1.735,-1.714,-1.702,-1.672]],[-5.9,[-1.906,-1.895,-1.888]],[-6.2,[-1.899,-1.888,-1.853,-1.839,-1.73]],[-6.35,[-1.884,-1.87,-1.828,-1.702,-1.66]],
[-6.5,[-1.877,-1.86,-1.839,-1.832]],[-6.7,[-1.909,-1.899,-1.882,-1.839,-1.751,-1.677]],[-6.85,[-1.867,-1.846,-1.699,-1.681,-1.667]],[-7.1,[-1.888,-1.867,-1.853,-1.839]],
[-7.3,[-1.86,-1.846,-1.702,-1.688,-1.66]],[-7.5,[-1.871,-1.853,-1.786]],[-7.7,[-1.885,-1.871,-1.86,-1.77,-1.756]],[-7.85,[-1.878,-1.86,-1.716,-1.681]],[-8,[-1.867,-1.853,-1.804,-1.741,-1.709]],
[-8.15,[-1.895,-1.881,-1.871,-1.86,-1.8]],[-8.3,[-1.884,-1.86,-1.755,-1.674]],[-8.5,[-1.895,-1.877,-1.86,-1.769,-1.692,-1.664]],[-8.6,[-1.891,-1.871,-1.828,-1.807]],
[-8.75,[-1.912,-1.877,-1.846,-1.769,-1.699]],[-8.95,[-1.874,-1.846,-1.79,-1.745,-1.692,-1.663]],[-9.1,[-1.912,-1.898,-1.87,-1.825]],[-9.35,[-1.919,-1.884,-1.849,-1.818,-1.765,-1.723,-1.706]],
[-9.5,[-1.94,-1.888,-1.867,-1.825,-1.776]],[-9.7,[-1.888,-1.871,-1.835,-1.828]],[-9.85,[-1.937,-1.912,-1.793,-1.741,-1.73,-1.706]],[-10,[-1.951,-1.919,-1.793]],[-10.1,[-1.944,-1.905,-1.836]],
[-10.3,[-1.916,-1.888,-1.826,-1.748,-1.735,-1.71]],[-10.45,[-1.972,-1.961,-1.937,-1.923,-1.912,-1.773]],[-10.6,[-1.935,-1.921,-1.902]],[-10.8,[-1.971,-1.96,-1.926,-1.909,-1.765,-1.741]]];
const ref4Band=[
[8.85,[-1.26,-1.24]],[8.4,[-1.32,-1.3]],[8.2,[-1.36,-1.34,-1.31]],[7.75,[-1.43,-1.4,-1.38]],[7.42,[-1.47,-1.44,-1.41]],[7.0,[-1.53,-1.5]],[6.85,[-1.57,-1.54,-1.51]],[6.55,[-1.59,-1.55,-1.52]],[6.35,[-1.6,-1.575,-1.54]],
[6.12,[-1.65,-1.625,-1.61]],[5.9,[-1.68,-1.65]],[5.65,[-1.72,-1.69]],[5.42,[-1.745,-1.715]],[5.15,[-1.77,-1.74]],[4.92,[-1.785,-1.76]],[4.72,[-1.81,-1.78]],[4.5,[-1.84,-1.805,-1.78]],[4.25,[-1.86,-1.83,-1.805]],[4.05,[-1.875,-1.84,-1.82]],[3.8,[-1.875,-1.855]],[3.55,[-1.89,-1.865]],[3.25,[-1.905,-1.875]],[3.0,[-1.92,-1.89]],[2.8,[-1.93,-1.905]],[2.6,[-1.945,-1.92,-1.905]],[2.25,[-1.95,-1.93,-1.915]],[1.95,[-1.955,-1.935,-1.92]],[1.72,[-1.96,-1.94,-1.925]],[1.55,[-1.965,-1.945,-1.925]],[1.15,[-1.975,-1.95,-1.93]],[0.8,[-1.97,-1.945,-1.93]],[0.55,[-1.965,-1.95,-1.93]],[0.35,[-1.97,-1.955,-1.935]],[0,[-1.965,-1.945,-1.925]],[-0.22,[-1.96,-1.94,-1.925]],[-0.6,[-1.97,-1.945,-1.925]],[-0.95,[-1.96,-1.94,-1.92]],[-1.3,[-1.955,-1.935,-1.915]],[-1.65,[-1.96,-1.935,-1.915]],[-1.85,[-1.955,-1.93,-1.91]],[-2.3,[-1.95,-1.925,-1.905]],[-2.7,[-1.945,-1.92,-1.9]],[-3.05,[-1.94,-1.915,-1.895]],[-3.5,[-1.93,-1.91,-1.89]],[-3.85,[-1.925,-1.905,-1.885]],[-4.25,[-1.93,-1.91,-1.885]],[-4.7,[-1.925,-1.9,-1.88]],[-5.15,[-1.92,-1.895,-1.875]],[-5.5,[-1.915,-1.89,-1.87]],[-5.72,[-1.92,-1.9,-1.875]],[-6,[-1.91,-1.895,-1.88]],[-6.6,[-1.895,-1.875,-1.85]],[-7,[-1.88,-1.86,-1.84]],[-7.4,[-1.885,-1.865,-1.84]],[-7.8,[-1.88,-1.86,-1.84]],[-8.25,[-1.88,-1.865,-1.845]],[-8.7,[-1.89,-1.865,-1.85]],[-9.2,[-1.88,-1.86,-1.84]],[-9.6,[-1.9,-1.87,-1.85]],[-10.2,[-1.93,-1.9,-1.88]],[-10.55,[-1.935,-1.915,-1.9]]];
const fitOut=[-1.611,-1.674,-1.73,-1.787,-1.829,-1.861,-1.893,-1.914,-1.92,-1.918,-1.914,-1.903,-1.889,-1.874,-1.863,-1.849];
const fitIn=[6,5.37,4.77,4.09,3.52,2.82,1.99,1.13,0.3,-0.53,-1.38,-2.21,-3.04,-3.9,-4.65,-5.91];
const fitThick=[8,18,19,19,17,15,13,12,11,11,11,10,9,8,7,5];
const xTicks=[-3,-2.8,-2.6,-2.4,-2.2,-2,-1.8,-1.6,-1.4,-1.2,-1];
const yTicks=d3.range(-12,13);
const limitLines=[6,-6];
const legendNames=["P fit","Data","Ref. 1","Ref. 2","Ref. 3","Ref. 4","Ref. 5"];
const fitParams=[["Offset","-1.93"],["M55","335.74E-6"],["T555","5.50E-3"],["U5555","535.87E-6"]];

const svg=d3.select("#c");
const x=d3.scaleLinear().domain([-3,-1]).range([91,1043]);
const y=d3.scaleLinear().domain([-12,12]).range([969,15]);
const L=89,R=1045,T=14,B=970;
svg.append("rect").attr("x",L).attr("y",T).attr("width",R-L).attr("height",B-T).attr("fill","#000").attr("stroke","#8a8a8a").attr("stroke-width",1);
const gc="#727272";
svg.append("g").selectAll("line").data(xTicks).join("line").attr("x1",d=>x(d)).attr("x2",d=>x(d)).attr("y1",T).attr("y2",B).attr("stroke",gc).attr("stroke-width",2);
svg.append("g").selectAll("line").data(yTicks).join("line").attr("x1",L).attr("x2",R).attr("y1",d=>y(d)).attr("y2",d=>y(d)).attr("stroke",gc).attr("stroke-width",2);
svg.append("g").selectAll("line").data(limitLines).join("line").attr("x1",L).attr("x2",R).attr("y1",d=>y(d)).attr("y2",d=>y(d)).attr("stroke","#e6e600").attr("stroke-width",2);

// axes
const ax=svg.append("g").attr("transform",`translate(0,${B})`).call(d3.axisBottom(x).tickValues(xTicks).tickFormat(d=>String(d)).tickSize(0).tickPadding(18));
const ay=svg.append("g").attr("transform",`translate(${L},0)`).call(d3.axisLeft(y).tickValues(yTicks).tickFormat(d=>String(d)).tickSize(0).tickPadding(18));
ax.select(".domain").remove();ay.select(".domain").remove();
ax.selectAll("text").attr("font-size",19).attr("fill","#2a2a2a").style("font-family","'DejaVu Sans'");
ay.selectAll("text").attr("font-size",19).attr("fill","#2a2a2a").style("font-family","'DejaVu Sans'").attr("dy","0.36em");
ax.selectAll(".tick line").remove();ay.selectAll(".tick line").remove();
svg.append("g").selectAll("line").data(xTicks).join("line").attr("x1",d=>x(d)).attr("x2",d=>x(d)).attr("y1",974).attr("y2",983).attr("stroke","#333").attr("stroke-width",1.5);
svg.append("g").selectAll("line").data(yTicks).join("line").attr("x1",76).attr("x2",86).attr("y1",d=>y(d)).attr("y2",d=>y(d)).attr("stroke","#333").attr("stroke-width",1.5);
svg.append("text").attr("x",563).attr("y",1035).attr("text-anchor","middle").attr("font-size",19.5).attr("font-weight","bold").attr("fill","#222").text("Phase out, deg");
svg.append("text").attr("transform","translate(26,490) rotate(-90)").attr("text-anchor","middle").attr("font-size",19).attr("font-weight","bold").attr("fill","#222").text("Phase in, deg");

// scatter series
const flat=rows=>rows.flatMap(([py,xs])=>xs.map(px=>({px,py})));
const series=[[ref1Rows.concat(ref1Band),"#ff0000"],[ref3Rows.concat(ref3Band),"#00ffff"],[ref2Rows.concat(ref2Band),"#66ff00"],[ref4Rows.concat(ref4Band),"#ffee00"]];
series.forEach(([rows,col])=>{
  svg.append("g").attr("shape-rendering","crispEdges").selectAll("rect").data(flat(rows)).join("rect")
   .attr("x",d=>Math.round(x(d.px)-2)).attr("y",d=>Math.round(y(d.py)-2)).attr("width",4).attr("height",4).attr("fill",col);
});
// P fit curve
const fitPts=fitOut.map((o,i)=>({o,p:fitIn[i],w:fitThick[i]}));
svg.append("path").datum(fitPts).attr("fill","#fff").attr("d",
  d3.area().y(d=>y(d.p)).x0(d=>x(d.o)-d.w/2).x1(d=>x(d.o)+d.w/2).curve(d3.curveCatmullRom));
// legend
const lg=svg.append("g");
lg.append("rect").attr("x",984).attr("y",19).attr("width",56).attr("height",283).attr("fill","#000").attr("stroke","#c8c8c8").attr("stroke-width",2);
lg.append("path").attr("d","M988,39L1013,24L1037,39").attr("fill","none").attr("stroke","#fff").attr("stroke-width",3.5);
const labelY=[33,74,117,160,201,243,286];
const markCols=[null,"#ffffff","#ff0000","#66ff00","#00ffff","#ffee00","#8020b0"];
legendNames.forEach((n,i)=>{
  lg.append("text").attr("x",900).attr("y",labelY[i]).attr("dy","0.36em").attr("font-size",20).attr("fill","#e4e4e4").text(n);
  if(i>0){const top=65+(i-1)*42;
    [[1007,top],[988,top+16],[1027,top+16]].forEach(([a,b],j)=>{
      const s=i==6?2:(j==1?2:4);
      lg.append("rect").attr("x",a-s/2).attr("y",b-s/2).attr("width",s).attr("height",s).attr("fill",markCols[i]);
    });}
});
// arrow
svg.append("line").attr("x1",1050).attr("y1",529).attr("x2",785).attr("y2",263).attr("stroke","#ff0000").attr("stroke-width",9);
svg.append("path").attr("d","M770,248L795,256L777,273Z").attr("fill","#ff0000");
// parameter boxes
const boxY=[790,836,882,928];
fitParams.forEach(([n,v],i)=>{
  svg.append("rect").attr("x",905).attr("y",boxY[i]).attr("width",128).attr("height",29).attr("fill","#66ff00");
  svg.append("text").attr("x",885).attr("y",boxY[i]+15).attr("dy","0.36em").attr("text-anchor","end").attr("font-size",19.5).attr("font-weight","bold").attr("fill","#f4f4f4").text(n);
  svg.append("text").attr("x",908).attr("y",boxY[i]+16).attr("dy","0.36em").attr("font-size",19).attr("fill","#14480a").text(v);
});
</script></body></html>
